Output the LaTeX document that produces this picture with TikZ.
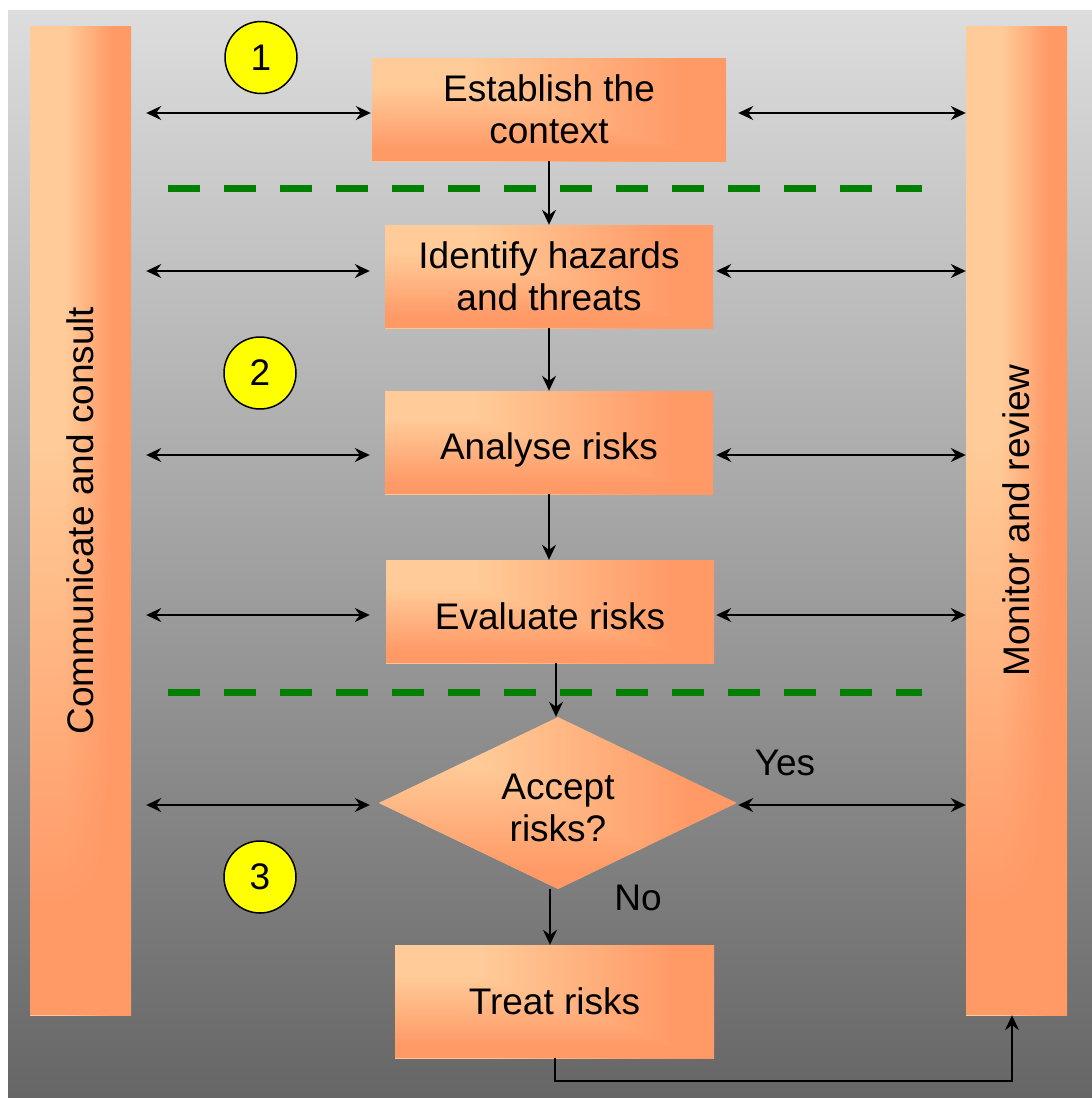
\documentclass[tikz,border=0pt]{standalone}
\usepackage{fontspec}
\setmainfont{Liberation Sans}
\usetikzlibrary{shapes.geometric,arrows.meta,fadings}
\definecolor{bgT}{RGB}{221,221,221}
\definecolor{bgB}{RGB}{102,102,102}
\definecolor{pkL}{RGB}{255,204,153}
\definecolor{pkD}{RGB}{255,153,102}
\definecolor{dgreen}{RGB}{0,128,0}
\definecolor{yel}{RGB}{255,255,0}
\pgfdeclareverticalshading{bgshade}{100bp}{color(0bp)=(bgB); color(25bp)=(bgB); color(75bp)=(bgT); color(100bp)=(bgT)}
% box gradients (rectangular, from the top-left corner)
\pgfdeclarehorizontalshading{hgr}{100bp}{color(0bp)=(pkL); color(38bp)=(pkL); color(69bp)=(pkD); color(100bp)=(pkD)}
\pgfdeclareverticalshading{vgr}{100bp}{color(0bp)=(pkD); color(30bp)=(pkD); color(62bp)=(pkL); color(100bp)=(pkL)}
% bar gradient: horizontal, fading to dark towards the bottom
\pgfdeclarehorizontalshading{hbar}{100bp}{color(0bp)=(pkL); color(42bp)=(pkL); color(66bp)=(pkD); color(100bp)=(pkD)}
\pgfdeclareverticalshading{barmask}{100bp}{color(0bp)=(white); color(30bp)=(white); color(54bp)=(black); color(100bp)=(black)}
\pgfdeclarefading{barfade}{\pgfuseshading{barmask}}
\begin{document}
\begin{tikzpicture}[x=1pt,y=-1pt,
  txt/.style={font=\fontsize{37}{42}\selectfont, align=center, text=black},
  rgrad/.style 2 args={path picture={
     \shade[shading=#1] (path picture bounding box.south west) rectangle (path picture bounding box.north east);
     \shade[shading=#2] (path picture bounding box.north west) -- (path picture bounding box.south west) -- (path picture bounding box.south east) -- cycle;}},
  bargrad/.style={path picture={
     \shade[shading=hbar] (path picture bounding box.south west) rectangle (path picture bounding box.north east);
     \fill[pkD, path fading=barfade, fit fading=true] (path picture bounding box.south west) rectangle (path picture bounding box.north east);}},
  box/.style={rectangle, rgrad={hgr}{vgr}, inner sep=0pt, txt},
  bar/.style={rectangle, bargrad, inner sep=0pt, minimum width=101pt, minimum height=989pt, txt},
  num/.style={circle, draw=black, line width=1.5pt, fill=yel, minimum size=72pt, inner sep=0pt, font=\fontsize{37}{42}\selectfont},
  tip/.tip={Stealth[length=15pt,width=14pt,inset=5pt]},
  arr/.style={line width=1.8pt, -tip},
  biarr/.style={line width=1.8pt, tip-tip},
  greendash/.style={draw=dgreen, line width=7pt, dash pattern=on 32pt off 24pt}
]
\useasboundingbox (0,0) rectangle (1092,1098);
\fill[white] (0,0) rectangle (1092,1098);
\shade[shading=bgshade] (8,10) rectangle (1092,1098);

% side bars
\node[bar] (cc) at (80.5,520.5) {\rotatebox{90}{Communicate and consult}};
\node[bar] (mr) at (1016.5,520.5) {\rotatebox{90}{Monitor and review}};

% process boxes
\node[box, minimum width=354pt, minimum height=103pt] (est) at (549,109.5) {Establish the\\context};
\node[box, minimum width=328pt, minimum height=103pt] (id) at (549,276.5) {Identify hazards\\and threats};
\node[box, minimum width=328pt, minimum height=103pt, text height=33pt, text depth=0pt] (an) at (549,442.5) {Analyse risks};
\node[box, minimum width=328pt, minimum height=103pt, text height=35pt, text depth=0pt] (ev) at (550,611.5) {Evaluate risks};
\node[diamond, rgrad={hgr}{vgr}, inner sep=0pt, minimum width=358pt, minimum height=172pt] (dia) at (558,803) {};
\node[txt] (diat) at (558,808) {Accept\\risks?};
\node[box, minimum width=319pt, minimum height=113pt] (tr) at (554.5,1001.5) {Treat risks};

% numbered circles
\node[num] (n1) at (261,57.5) {1};
\node[num] (n2) at (260,373) {2};
\node[num] (n3) at (260,877) {3};

% green dashed separators
\draw[greendash] (168,188) -- (922,188);
\draw[greendash] (168,692) -- (922,692);

% left bidirectional arrows
\draw[biarr] ([xshift=15pt]cc.east |- 0,113) -- ([xshift=-1pt]est.west |- 0,113);
\draw[biarr] ([xshift=15pt]cc.east |- 0,271) -- ([xshift=-15pt]id.west |- 0,271);
\draw[biarr] ([xshift=15pt]cc.east |- 0,455) -- ([xshift=-15pt]an.west |- 0,455);
\draw[biarr] ([xshift=15pt]cc.east |- 0,615) -- ([xshift=-16pt]ev.west |- 0,615);
\draw[biarr] ([xshift=15pt]cc.east |- 0,805) -- ([xshift=-9pt]dia.west |- 0,805);

% right bidirectional arrows
\draw[biarr] ([xshift=12pt]est.east |- 0,113) -- (mr.west |- 0,113);
\draw[biarr] ([xshift=3pt]id.east |- 0,271) -- (mr.west |- 0,271);
\draw[biarr] ([xshift=3pt]an.east |- 0,455) -- (mr.west |- 0,455);
\draw[biarr] ([xshift=2pt]ev.east |- 0,615) -- (mr.west |- 0,615);
\draw[biarr] ([xshift=1pt]dia.east |- 0,805) -- (mr.west |- 0,805);

% flow arrows
\draw[arr] (est.south) -- (id.north);
\draw[arr] (id.south) -- (an.north);
\draw[arr] (an.south) -- (an.south |- ev.north);
\draw[arr] ([xshift=-2pt]dia.north |- ev.south) -- ([xshift=-2pt]dia.north);
\draw[arr] ([xshift=-4.5pt]tr.north |- dia.south) -- ([xshift=-4.5pt]tr.north);
\coordinate (bl) at (555,1081);
\draw[arr] (tr.south -| bl) -- (bl) -| ([xshift=-4.5pt]mr.south);

% labels
\node[txt] (yes) at (785,763) {Yes};
\node[txt] (no) at (638,898) {No};
\end{tikzpicture}
\end{document}
